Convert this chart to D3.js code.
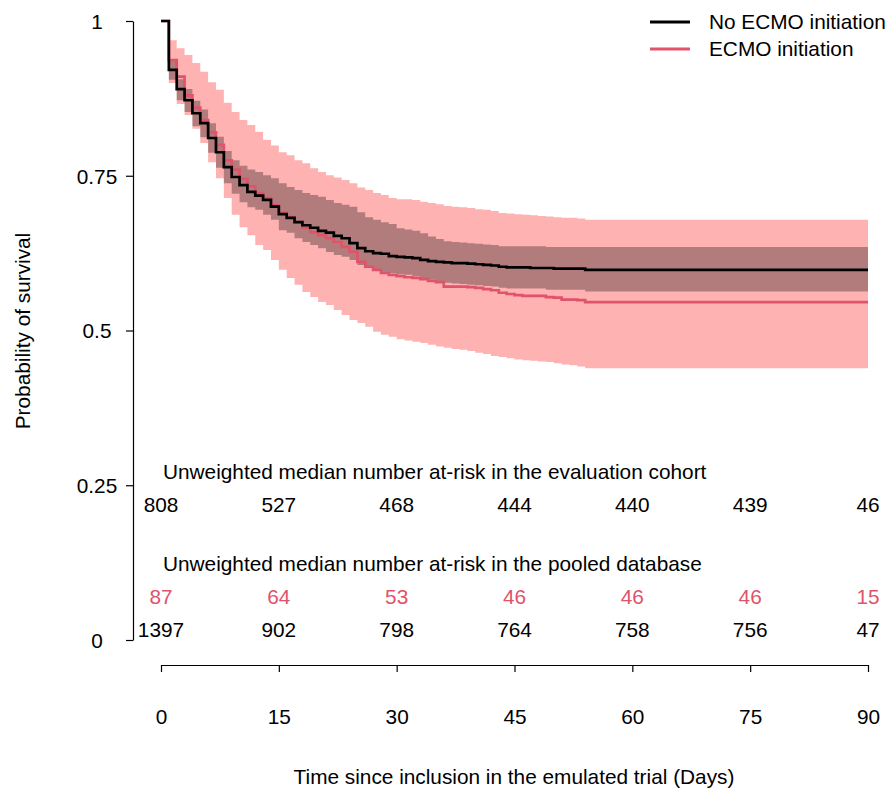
<!DOCTYPE html>
<html>
<head>
<meta charset="utf-8">
<script src="https://cdn.jsdelivr.net/npm/d3@7"></script>
<style>
  body { margin: 0; background: #fff; }
  svg text { font-family: "Liberation Sans", Arial, sans-serif; }
</style>
</head>
<body>
<svg id="km" width="888" height="789"></svg>
<script>
// Days with a step (last point carries the curve to day 90)
const days = [0, 1, 2, 3, 4, 5, 6, 7, 8, 9, 10, 11, 12, 13, 14, 15, 16, 17, 18, 19,
  20, 21, 22, 23, 24, 25, 26, 27, 28, 29, 30, 31, 32, 33, 34, 35, 36, 37, 38, 39,
  40, 41, 42, 43, 44, 45, 46, 47, 48, 49, 50, 51, 52, 53, 54, 90];

// No ECMO initiation: survival and 95% CI
const noEcmoSurv = [1, 0.921, 0.890, 0.872, 0.851, 0.835, 0.811, 0.788, 0.764, 0.748,
  0.735, 0.724, 0.718, 0.711, 0.700, 0.688, 0.682, 0.675, 0.670, 0.666,
  0.661, 0.658, 0.653, 0.649, 0.641, 0.633, 0.628, 0.625, 0.624, 0.620,
  0.619, 0.618, 0.617, 0.614, 0.612, 0.611, 0.610, 0.609, 0.609, 0.608,
  0.607, 0.606, 0.605, 0.603, 0.602, 0.602, 0.602, 0.601, 0.601, 0.601,
  0.600, 0.600, 0.600, 0.600, 0.598, 0.598];
const noEcmoLower = [1, 0.905, 0.872, 0.853, 0.830, 0.812, 0.787, 0.763, 0.738, 0.721,
  0.707, 0.699, 0.695, 0.687, 0.679, 0.662, 0.658, 0.649, 0.643, 0.638,
  0.633, 0.627, 0.622, 0.619, 0.614, 0.606, 0.601, 0.598, 0.595, 0.593,
  0.591, 0.590, 0.588, 0.585, 0.582, 0.579, 0.577, 0.576, 0.575, 0.574,
  0.573, 0.572, 0.571, 0.569, 0.568, 0.568, 0.568, 0.568, 0.568, 0.566,
  0.566, 0.566, 0.566, 0.566, 0.563, 0.563];
const noEcmoUpper = [1, 0.937, 0.906, 0.890, 0.871, 0.857, 0.835, 0.813, 0.790, 0.775,
  0.766, 0.760, 0.756, 0.751, 0.746, 0.738, 0.732, 0.727, 0.722, 0.719,
  0.716, 0.711, 0.706, 0.703, 0.700, 0.691, 0.683, 0.679, 0.675, 0.672,
  0.665, 0.663, 0.661, 0.657, 0.652, 0.648, 0.644, 0.643, 0.642, 0.641,
  0.640, 0.639, 0.638, 0.636, 0.636, 0.636, 0.636, 0.636, 0.636, 0.635,
  0.635, 0.635, 0.635, 0.635, 0.635, 0.635];

// ECMO initiation: survival and 95% CI
const ecmoSurv = [1, 0.937, 0.910, 0.880, 0.860, 0.840, 0.820, 0.800, 0.775, 0.760,
  0.745, 0.733, 0.722, 0.714, 0.702, 0.690, 0.683, 0.675, 0.666, 0.659,
  0.654, 0.649, 0.643, 0.635, 0.627, 0.611, 0.603, 0.598, 0.593, 0.590,
  0.588, 0.586, 0.585, 0.583, 0.580, 0.578, 0.571, 0.571, 0.571, 0.570,
  0.569, 0.567, 0.565, 0.561, 0.559, 0.557, 0.556, 0.556, 0.556, 0.554,
  0.553, 0.550, 0.550, 0.549, 0.546, 0.546];
const ecmoLower = [1, 0.900, 0.866, 0.848, 0.826, 0.803, 0.772, 0.746, 0.714, 0.687,
  0.667, 0.654, 0.638, 0.630, 0.614, 0.598, 0.585, 0.574, 0.562, 0.554,
  0.546, 0.541, 0.533, 0.525, 0.517, 0.512, 0.506, 0.498, 0.493, 0.490,
  0.486, 0.484, 0.482, 0.480, 0.477, 0.474, 0.472, 0.470, 0.469, 0.467,
  0.464, 0.462, 0.459, 0.457, 0.455, 0.453, 0.452, 0.451, 0.450, 0.449,
  0.447, 0.445, 0.444, 0.442, 0.439, 0.439];
const ecmoUpper = [1, 0.969, 0.956, 0.945, 0.932, 0.918, 0.901, 0.889, 0.868, 0.853,
  0.840, 0.832, 0.821, 0.808, 0.799, 0.788, 0.783, 0.775, 0.770, 0.762,
  0.756, 0.751, 0.747, 0.743, 0.738, 0.731, 0.727, 0.722, 0.719, 0.714,
  0.712, 0.712, 0.711, 0.708, 0.706, 0.704, 0.701, 0.700, 0.699, 0.698,
  0.696, 0.695, 0.693, 0.690, 0.689, 0.688, 0.687, 0.686, 0.685, 0.684,
  0.683, 0.682, 0.682, 0.681, 0.679, 0.679];

// Risk table
const riskDays = [0, 15, 30, 45, 60, 75, 90];
const riskEvalCohort = [808, 527, 468, 444, 440, 439, 46];
const riskPooledEcmo = [87, 64, 53, 46, 46, 46, 15];
const riskPooledNoEcmo = [1397, 902, 798, 764, 758, 756, 47];

const yTicks = [0, 0.25, 0.5, 0.75, 1];
const xTicks = [0, 15, 30, 45, 60, 75, 90];

const seriesNames = ["No ECMO initiation", "ECMO initiation"];
const red = "#DF536B";
const fontSize = "20.8px";

const svg = d3.select("#km");

// Scales
const x = d3.scaleLinear().domain([0, 90]).range([161, 868]);
const y = d3.scaleLinear().domain([0, 1]).range([640, 21]);

const toRows = (est, lo, hi) =>
  days.map((d, i) => ({ day: d, est: est[i], lo: lo[i], hi: hi[i] }));
const noEcmo = toRows(noEcmoSurv, noEcmoLower, noEcmoUpper);
const ecmo = toRows(ecmoSurv, ecmoLower, ecmoUpper);

const band = d3
  .area()
  .curve(d3.curveStepAfter)
  .x((d) => x(d.day))
  .y0((d) => y(d.lo))
  .y1((d) => y(d.hi));

const line = d3
  .line()
  .curve(d3.curveStepAfter)
  .x((d) => x(d.day))
  .y((d) => y(d.est));

// Confidence bands
svg.append("path").datum(ecmo).attr("d", band).attr("fill", "rgba(255,0,0,0.3)");
svg.append("path").datum(noEcmo).attr("d", band).attr("fill", "rgba(0,0,0,0.3)");

// Survival curves
svg
  .append("path")
  .datum(ecmo)
  .attr("d", line)
  .attr("fill", "none")
  .attr("stroke", red)
  .attr("stroke-width", 2.7);
svg
  .append("path")
  .datum(noEcmo)
  .attr("d", line)
  .attr("fill", "none")
  .attr("stroke", "black")
  .attr("stroke-width", 2.7);

// Y axis
const yAxis = svg
  .append("g")
  .attr("transform", "translate(133,0)")
  .call(
    d3.axisLeft(y).tickValues(yTicks).tickSize(7).tickSizeOuter(0).tickFormat((d) => String(d)),
  );
yAxis.selectAll("path, line").attr("stroke", "black").attr("stroke-width", 1.2);
yAxis
  .selectAll("text")
  .attr("x", -36)
  .attr("dy", "0.35em")
  .attr("text-anchor", "middle")
  .attr("fill", "black")
  .style("font-size", fontSize);

// Label y axis
svg
  .append("text")
  .attr("transform", "translate(30,331) rotate(-90)")
  .attr("text-anchor", "middle")
  .style("font-size", fontSize)
  .text("Probability of survival");

// X axis
const xAxis = svg
  .append("g")
  .attr("transform", "translate(0,665)")
  .call(d3.axisBottom(x).tickValues(xTicks).tickSize(7).tickSizeOuter(0));
xAxis.selectAll("path, line").attr("stroke", "black").attr("stroke-width", 1.2);
xAxis
  .selectAll("text")
  .attr("y", 52)
  .attr("dy", "0.35em")
  .attr("fill", "black")
  .style("font-size", fontSize);

// Label x axis
svg
  .append("text")
  .attr("x", 514)
  .attr("y", 777)
  .attr("dy", "0.35em")
  .attr("text-anchor", "middle")
  .style("font-size", fontSize)
  .text("Time since inclusion in the emulated trial (Days)");

// Risk table headings
svg
  .append("text")
  .attr("x", 163)
  .attr("y", 472)
  .attr("dy", "0.35em")
  .style("font-size", fontSize)
  .text("Unweighted median number at-risk in the evaluation cohort");
svg
  .append("text")
  .attr("x", 163)
  .attr("y", 564)
  .attr("dy", "0.35em")
  .style("font-size", fontSize)
  .text("Unweighted median number at-risk in the pooled database");

// Risk table rows
const riskRows = [
  { values: riskEvalCohort, y: 505, color: "black" },
  { values: riskPooledEcmo, y: 597, color: red },
  { values: riskPooledNoEcmo, y: 630, color: "black" },
];
riskRows.forEach((row) => {
  svg
    .append("g")
    .selectAll("text")
    .data(row.values)
    .join("text")
    .attr("x", (d, i) => x(riskDays[i]))
    .attr("y", row.y)
    .attr("dy", "0.35em")
    .attr("text-anchor", "middle")
    .attr("fill", row.color)
    .style("font-size", fontSize)
    .text((d) => d);
});

// Legend
const legend = svg.append("g");
[{ name: seriesNames[0], color: "black", y: 22 }, { name: seriesNames[1], color: red, y: 49 }].forEach((d) => {
  legend
    .append("line")
    .attr("x1", 650)
    .attr("x2", 690)
    .attr("y1", d.y)
    .attr("y2", d.y)
    .attr("stroke", d.color)
    .attr("stroke-width", 3);
  legend
    .append("text")
    .attr("x", 709)
    .attr("y", d.y)
    .attr("dy", "0.35em")
    .style("font-size", fontSize)
    .text(d.name);
});
</script>
</body>
</html>
